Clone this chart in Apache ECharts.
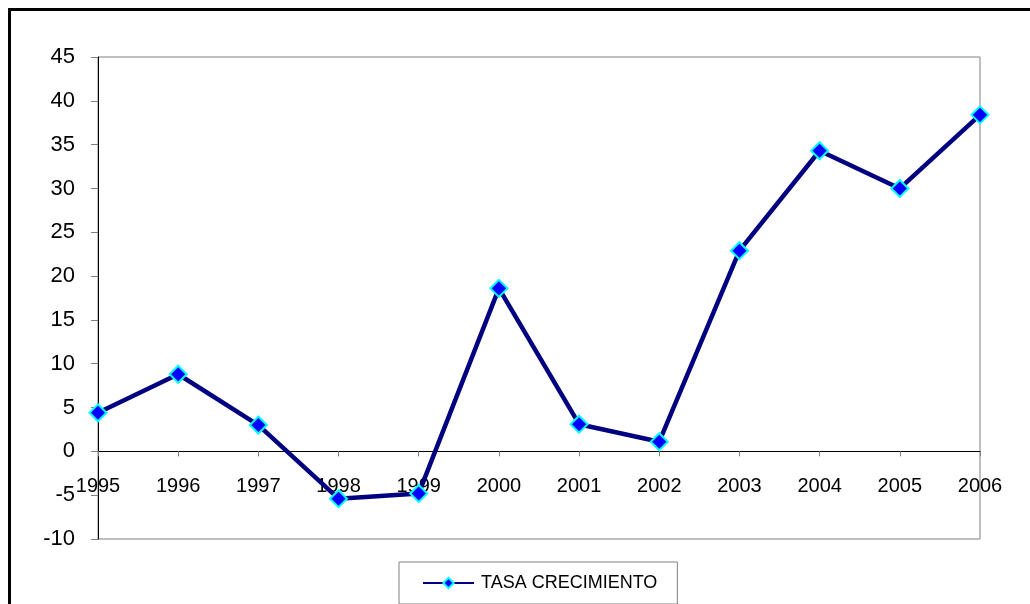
<!DOCTYPE html>
<html>
<head>
<meta charset="utf-8">
<script src="https://cdn.jsdelivr.net/npm/echarts@6/dist/echarts.min.js"></script>
<style>
html,body{margin:0;padding:0;background:#fff;}
#chart{width:1030px;height:604px;}
</style>
</head>
<body>
<div id="chart"></div>
<script>
const years = ['1995','1996','1997','1998','1999','2000','2001','2002','2003','2004','2005','2006'];
const tasaCrecimiento = [4.4, 8.8, 3.0, -5.4, -4.8, 18.6, 3.1, 1.1, 22.9, 34.3, 30.0, 38.4];
const seriesName = 'TASA CRECIMIENTO';
const yMin = -10, yMax = 45, yStep = 5;

const gridTop = 57, gridBottom = 65, chartH = 604;
const gridH = chartH - gridTop - gridBottom;
const zeroOffset = -((0 - yMin) / (yMax - yMin)) * gridH;

const chart = echarts.init(document.getElementById('chart'), null, {renderer: 'canvas'});
const font = 'Arial, "Liberation Sans", sans-serif';
chart.setOption({
  animation: false,
  backgroundColor: '#ffffff',
  graphic: [{
    type: 'rect',
    shape: {x: 9.5, y: 9.5, width: 1100, height: 700},
    style: {fill: 'none', stroke: '#000', lineWidth: 3},
    silent: true,
    z: 100
  }],
  grid: {
    left: 98, top: gridTop, right: 50, bottom: gridBottom,
    show: true, borderColor: '#808080', borderWidth: 1
  },
  legend: {
    left: 399, top: 562,
    padding: [12, 20, 12, 23],
    borderColor: '#808080', borderWidth: 1,
    itemWidth: 51, itemHeight: 13, itemGap: 10,
    textStyle: {fontFamily: font, fontSize: 18, color: '#000', padding: [0, 0, 0, 2]},
    data: [seriesName]
  },
  xAxis: {
    type: 'category',
    data: years,
    boundaryGap: false,
    offset: zeroOffset,
    axisLine: {onZero: false, lineStyle: {color: '#000', width: 1}},
    axisTick: {show: true, length: 5, lineStyle: {color: '#808080'}},
    axisLabel: {fontFamily: font, fontSize: 20, color: '#000', margin: 25}
  },
  yAxis: {
    type: 'value',
    min: yMin, max: yMax, interval: yStep,
    axisLine: {show: true, lineStyle: {color: '#000', width: 1}},
    axisTick: {show: true, length: 7, lineStyle: {color: '#808080'}},
    splitLine: {show: false},
    axisLabel: {fontFamily: font, fontSize: 22, color: '#000', margin: 23}
  },
  series: [{
    name: seriesName,
    type: 'line',
    data: tasaCrecimiento,
    symbol: 'diamond',
    symbolSize: 17,
    showAllSymbol: true,
    lineStyle: {color: '#000080', width: 4.5},
    itemStyle: {color: '#0000FF', borderColor: '#00FFFF', borderWidth: 2},
    z: 5
  }]
});
</script>
</body>
</html>
